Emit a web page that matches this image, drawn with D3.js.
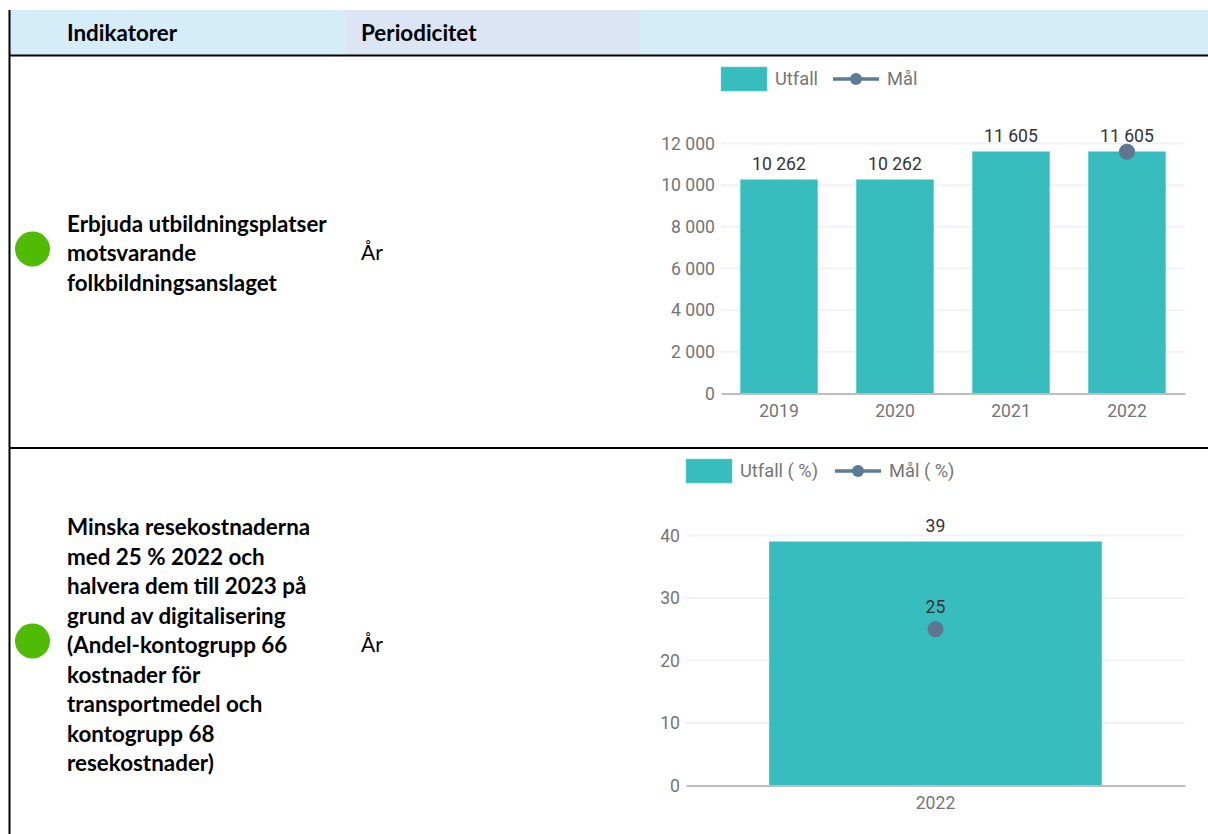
<!DOCTYPE html>
<html lang="sv">
<head>
<meta charset="utf-8">
<title>Indikatorer</title>
<script src="https://cdn.jsdelivr.net/npm/d3@7"></script>
<style>
  html, body { margin: 0; padding: 0; background: #fff; }
  svg { display: block; }
  .cell-text { font-family: Lato, "Open Sans", sans-serif; font-size: 21px; fill: #000; }
  .cell-text.bold { font-size: 22.4px; font-weight: 700; }
  .chart-text { font-family: Roboto, sans-serif; font-size: 17.6px; }
  .legend-text { font-family: Roboto, sans-serif; font-size: 18.3px; }
</style>
</head>
<body>
<div id="chart"></div>
<script>
// Tabell
const headerLabels = ['Indikatorer', 'Periodicitet'];
const periodLabel = 'År';
const row1Lines = ['Erbjuda utbildningsplatser', 'motsvarande', 'folkbildningsanslaget'];
const row2Lines = ['Minska resekostnaderna', 'med 25 % 2022 och', 'halvera dem till 2023 på', 'grund av digitalisering', '(Andel-kontogrupp 66', 'kostnader för', 'transportmedel och', 'kontogrupp 68', 'resekostnader)'];

// Diagram 1
const years1 = ['2019', '2020', '2021', '2022'];
const utfall1 = [10262, 10262, 11605, 11605];
const mal1 = [null, null, null, 11605];
const ticks1 = [0, 2000, 4000, 6000, 8000, 10000, 12000];

// Diagram 2
const years2 = ['2022'];
const utfall2 = [39];
const mal2 = [25];
const ticks2 = [0, 10, 20, 30, 40];

const colors = {
    headerBlue: '#d5ecf9',
    headerGrey: '#dbe5f3',
    bar: '#37bdbd',
    barEdge: '#5fd3d0',
    goal: '#5f7690',
    goalLegend: '#5b7a95',
    grid: '#eef1f6',
    axis: '#bdbdbd',
    tick: '#757575',
    label: '#333333',
    status: '#4fbb02'
};

const width = 1208;
const height = 834;
const numberFormat = d3.formatLocale({ decimal: ',', thousands: ' ', grouping: [3], currency: ['', ''] }).format(',d');

const svg = d3.select('#chart').append('svg')
    .attr('width', width)
    .attr('height', height);

// Rubrikrad
svg.append('rect').attr('x', 9).attr('y', 10).attr('width', width - 9).attr('height', 45).attr('fill', colors.headerBlue);
svg.append('rect').attr('x', 346).attr('y', 10).attr('width', 294).attr('height', 45).attr('fill', colors.headerGrey);

svg.selectAll('.header-label')
    .data(headerLabels)
    .enter()
    .append('text')
    .attr('class', 'cell-text bold')
    .attr('x', (d, i) => i === 0 ? 67 : 361)
    .attr('y', 41)
    .text(d => d);

// Linjer
[[9.5, 10, 9.5, height], [9, 55.5, width, 55.5], [9, 448, width, 448]].forEach(l => {
    svg.append('line')
        .attr('x1', l[0]).attr('y1', l[1])
        .attr('x2', l[2]).attr('y2', l[3])
        .attr('stroke', '#000')
        .attr('stroke-width', 2);
});

function drawRow(lines, centerY) {
    const lineHeight = 29.5;
    const top = centerY - (lines.length - 1) * lineHeight / 2;

    svg.append('circle')
        .attr('cx', 32.5).attr('cy', centerY - 4)
        .attr('r', 17.5)
        .attr('fill', colors.status);

    svg.append('g').selectAll('text')
        .data(lines)
        .enter()
        .append('text')
        .attr('class', 'cell-text bold')
        .attr('x', 67)
        .attr('y', (d, i) => top + i * lineHeight + 8)
        .text(d => d);

    svg.append('text')
        .attr('class', 'cell-text')
        .attr('x', 361)
        .attr('y', centerY + 7)
        .text(periodLabel);
}

function drawChart(o) {
    const x = d3.scaleBand().domain(o.years).range([o.left, o.right]).padding(1 / 3).paddingOuter(1 / 6);
    const y = d3.scaleLinear().domain([0, o.yMax]).range([o.bottom, o.top]);
    const g = svg.append('g');

    // Rutnät
    g.selectAll('.grid')
        .data(o.ticks.filter(d => d !== 0))
        .enter()
        .append('line')
        .attr('x1', o.left).attr('x2', o.right)
        .attr('y1', d => y(d)).attr('y2', d => y(d))
        .attr('stroke', colors.grid)
        .attr('stroke-width', 2);

    // Y-axel
    const yAxis = g.append('g')
        .attr('transform', `translate(${o.left},0)`)
        .call(d3.axisLeft(y).tickValues(o.ticks).tickSize(0).tickPadding(6).tickFormat(numberFormat));
    yAxis.select('.domain').remove();
    yAxis.selectAll('text').attr('class', 'chart-text').attr('fill', colors.tick);

    // Staplar
    g.selectAll('.bar')
        .data(o.years)
        .enter()
        .append('rect')
        .attr('x', d => x(d))
        .attr('y', (d, i) => y(o.utfall[i]))
        .attr('width', x.bandwidth())
        .attr('height', (d, i) => o.bottom - y(o.utfall[i]))
        .attr('fill', colors.bar)
        .attr('stroke', colors.barEdge)
        .attr('stroke-width', 0.5);

    // X-axel
    const xAxis = g.append('g')
        .attr('transform', `translate(0,${o.bottom})`)
        .call(d3.axisBottom(x).tickSize(0).tickPadding(11));
    xAxis.select('.domain').attr('stroke', colors.axis).attr('stroke-width', 2);
    xAxis.selectAll('text').attr('class', 'chart-text').attr('fill', colors.tick);

    // Värden ovanför staplarna
    g.selectAll('.bar-label')
        .data(o.years)
        .enter()
        .append('text')
        .attr('class', 'chart-text')
        .attr('x', d => x(d) + x.bandwidth() / 2)
        .attr('y', (d, i) => y(o.utfall[i]) - 10)
        .attr('text-anchor', 'middle')
        .attr('fill', colors.label)
        .text((d, i) => numberFormat(o.utfall[i]));

    // Målpunkter
    o.years.forEach((d, i) => {
        if (o.mal[i] === null) return;
        const cx = x(d) + x.bandwidth() / 2;
        g.append('circle')
            .attr('cx', cx).attr('cy', y(o.mal[i]))
            .attr('r', 8)
            .attr('fill', colors.goal);
        if (o.malLabel) {
            g.append('text')
                .attr('class', 'chart-text')
                .attr('x', cx)
                .attr('y', y(o.mal[i]) - 16)
                .attr('text-anchor', 'middle')
                .attr('fill', colors.label)
                .text(numberFormat(o.mal[i]));
        }
    });

    // Legend
    const lg = svg.append('g').attr('transform', `translate(${o.legendX},${o.legendY})`);
    lg.append('rect').attr('x', 0).attr('y', -12).attr('width', 46).attr('height', 24)
        .attr('fill', colors.bar).attr('stroke', colors.barEdge).attr('stroke-width', 0.5);
    lg.append('text').attr('class', 'legend-text').attr('x', 54).attr('y', 5.5)
        .attr('fill', colors.tick).text(o.barName);
    lg.append('line').attr('x1', o.lineX).attr('x2', o.lineX + 46).attr('y1', 0).attr('y2', 0)
        .attr('stroke', colors.goalLegend).attr('stroke-width', 3.5);
    lg.append('circle').attr('cx', o.lineX + 23).attr('cy', 0).attr('r', 6).attr('fill', colors.goalLegend);
    lg.append('text').attr('class', 'legend-text').attr('x', o.lineX + 54).attr('y', 5.5)
        .attr('fill', colors.tick).text(o.lineName);
}

drawRow(row1Lines, 253);
drawRow(row2Lines, 645);

drawChart({
    years: years1, utfall: utfall1, mal: mal1, ticks: ticks1,
    yMax: 12000, left: 721, right: 1185, top: 143.5, bottom: 393.5,
    legendX: 721, legendY: 79, lineX: 112, barName: 'Utfall', lineName: 'Mål', malLabel: false
});

drawChart({
    years: years2, utfall: utfall2, mal: mal2, ticks: ticks2,
    yMax: 40, left: 686, right: 1185, top: 535.5, bottom: 785.5,
    legendX: 686, legendY: 471, lineX: 149, barName: 'Utfall ( %)', lineName: 'Mål ( %)', malLabel: true
});
</script>
</body>
</html>
